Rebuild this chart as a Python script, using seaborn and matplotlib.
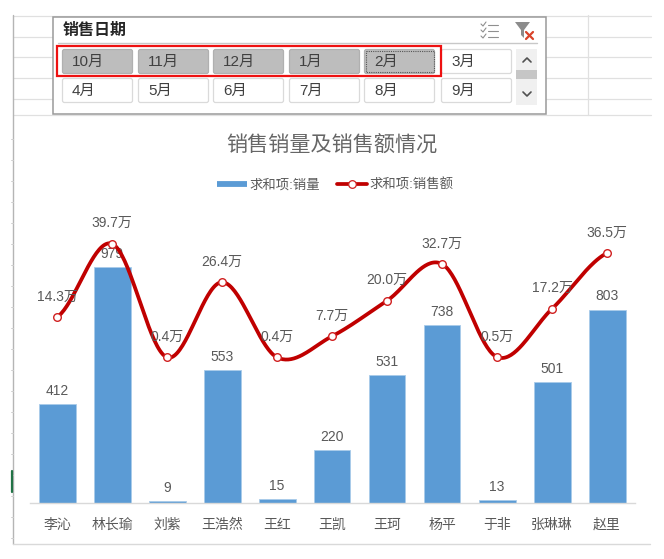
import numpy as np
import pandas as pd
import matplotlib
matplotlib.use("Agg")
import matplotlib.pyplot as plt
from matplotlib.lines import Line2D
from matplotlib.patches import Rectangle, FancyBboxPatch, Polygon
import seaborn as sns

names = ["李沁", "林长瑜", "刘紫", "王浩然", "王红", "王凯", "王珂", "杨平", "于非", "张琳琳", "赵里"]
sales_qty = [412, 979, 9, 553, 15, 220, 531, 738, 13, 501, 803]
sales_amt = [14.3, 39.7, 0.4, 26.4, 0.4, 7.7, 20.0, 32.7, 0.5, 17.2, 36.5]
months_row1 = ["10月", "11月", "12月", "1月", "2月", "3月"]
months_row2 = ["4月", "5月", "6月", "7月", "8月", "9月"]
selected = {"10月", "11月", "12月", "1月", "2月"}

sns.set_theme(style="white")
FONT = ["Liberation Sans", "Noto Sans CJK SC", "DejaVu Sans"]
plt.rcParams["font.family"] = FONT
plt.rcParams["axes.unicode_minus"] = False

W, H = 664, 559
BLUE, RED, GREY = "#5B9BD5", "#C00000", "#595959"
fig = plt.figure(figsize=(W / 100, H / 100), dpi=100, facecolor="white")

# ---------- worksheet and slicer layer, in pixel coordinates ----------
bg = fig.add_axes([0, 0, 1, 1], zorder=0)
bg.set_xlim(0, W); bg.set_ylim(H, 0); bg.axis("off")
for y in (16, 37, 57, 78, 99, 115):
    bg.plot([13, 651], [y, y], color="#E0E0E0", lw=0.9)
bg.plot([588, 588], [15, 115], color="#E0E0E0", lw=0.9)
bg.plot([13, 13], [15, 544], color="#B5B5B5", lw=1)
bg.plot([13, 650], [544, 544], color="#D9D9D9", lw=1)
for y in range(139, 544, 21):
    bg.plot([11, 13], [y, y], color="#D0D0D0", lw=0.7)
bg.plot([12, 12], [471, 492], color="#217346", lw=1.6)

bg.add_patch(Rectangle((53, 17), 493, 97, fc="white", ec="#9A9A9A", lw=1.1, zorder=2))
bg.text(63, 30.5, "销售日期", fontsize=11.5, fontweight="bold", color="#262626",
        family=FONT, va="center", ha="left", zorder=4)
bg.plot([58, 537], [43, 43], color="#C8C8C8", lw=1, zorder=3)

xs_btn = [62, 138, 213, 289, 364, 441]
for row, top in ((months_row1, 49), (months_row2, 78)):
    for lab, x0 in zip(row, xs_btn):
        on = lab in selected
        bg.add_patch(FancyBboxPatch((x0 + 0.5, top + 0.5), 70, 24, boxstyle="round,pad=0,rounding_size=2",
                                    fc="#BDBDBD" if on else "white",
                                    ec="#B0B0B0" if on else "#DADADA", lw=0.9, zorder=3))
        bg.text(x0 + 10, top + 13, lab, fontsize=11, color="#404040", va="center", ha="left", zorder=4)
bg.add_patch(Rectangle((366, 51), 68, 21, fc="none", ec="#555555", lw=0.8, ls=(0, (1, 1)), zorder=4))
bg.add_patch(Rectangle((57, 46), 384, 30, fc="none", ec="#EE1111", lw=1.6, zorder=5))

bg.add_patch(Rectangle((516, 49), 21, 56, fc="#F0F0F0", ec="none", zorder=3))
bg.add_patch(Rectangle((516, 70), 21, 9, fc="#C6C6C6", ec="none", zorder=4))
bg.plot([523, 527, 531], [62, 58, 62], color="#505050", lw=1.2, zorder=5)
bg.plot([523, 527, 531], [92, 96, 92], color="#505050", lw=1.2, zorder=5)

# slicer icons
for y in (25, 31, 37):
    bg.plot([488, 498], [y, y], color="#8F8F8F", lw=0.8, zorder=4)
    bg.plot([481, 483, 486], [y - 1, y + 1, y - 3], color="#8F8F8F", lw=0.8, zorder=4)
bg.add_patch(Polygon([(515, 22), (530, 22), (524, 30), (524, 38), (521, 35), (521, 30)],
                     fc="#8C8C8C", ec="none", zorder=4))
bg.plot([526, 533], [32, 39], color="#D9442B", lw=1.6, zorder=5)
bg.plot([533, 526], [32, 39], color="#D9442B", lw=1.6, zorder=5)

# ---------- chart ----------
left, right, top_px, base_px = 29.5, 634.5, 214, 503
pos = [left / W, 1 - base_px / H, (right - left) / W, (base_px - top_px) / H]
ax = fig.add_axes(pos, zorder=2)
ax.patch.set_alpha(0)
df = pd.DataFrame({"name": names, "qty": sales_qty, "amt": sales_amt})
sns.barplot(data=df, x="name", y="qty", color=BLUE, saturation=1, width=37 / 55, ax=ax,
            edgecolor="#A9CBEA", linewidth=0.6)
ax.set_xlim(-0.5, 10.5)
ax.set_ylim(0, 1200)
ax.set_xlabel(""); ax.set_ylabel("")
ax.set_yticks([])
ax.tick_params(axis="x", length=0, pad=10.5, labelsize=10, labelcolor=GREY)
for s in ("top", "left", "right"):
    ax.spines[s].set_visible(False)
ax.spines["bottom"].set_color("#D9D9D9")
ax.spines["bottom"].set_linewidth(1)
for c in ax.containers:
    ax.bar_label(c, labels=[str(v) for v in sales_qty], padding=4.5, fontsize=10, color=GREY)

ax2 = ax.twinx()
ax2.set_zorder(3); ax2.patch.set_alpha(0)
ax2.set_ylim(-50, 50)
ax2.set_yticks([])
ax2.grid(False)
for s in ax2.spines.values():
    s.set_visible(False)

# Smooth (Excel-style) curve through the data: cubic Bezier with Catmull-Rom tangents
pts = np.array(sales_amt, dtype=float)
p = np.concatenate(([pts[0]], pts, [pts[-1]]))
cx, cy = [], []
for i in range(len(pts) - 1):
    y0, y1, y2, y3 = p[i], p[i + 1], p[i + 2], p[i + 3]
    c1, c2 = y1 + (y2 - y0) / 6, y2 - (y3 - y1) / 6
    t = np.linspace(0, 1, 40)
    cx.append(i + t)
    cy.append((1 - t) ** 3 * y1 + 3 * (1 - t) ** 2 * t * c1 + 3 * (1 - t) * t ** 2 * c2 + t ** 3 * y2)
sns.lineplot(x=np.concatenate(cx), y=np.concatenate(cy), color=RED, lw=2.7, ax=ax2,
             estimator=None, sort=False, legend=False)
sns.scatterplot(x=np.arange(len(pts)), y=pts, ax=ax2, s=30, color="white", edgecolor="#D02020",
                linewidth=1, zorder=5, legend=False)
ax2.set_xlim(-0.5, 10.5)
ax2.set_xlabel(""); ax2.set_ylabel("")
for i, v in enumerate(sales_amt):
    ax2.annotate(f"{v:.1f}万", (i, v), xytext=(0, 14.8), textcoords="offset points", ha="center",
                 va="center", fontsize=10, color=GREY, zorder=6)

fig.text(331.5 / W, 1 - 146 / H, "销售销量及销售额情况", fontsize=15.2, color="#666666", ha="center", va="center")

handles = [Line2D([], [], color=BLUE, lw=4.2, solid_capstyle="butt"),
           Line2D([], [], color=RED, lw=2.7, marker="o", ms=5.5, mfc="white", mec="#D02020", mew=0.9)]
leg = fig.legend(handles, ["求和项:销量", "求和项:销售额"], ncol=2, frameon=False, fontsize=9.6,
                 labelcolor=GREY, loc="center", bbox_to_anchor=(335 / W, 1 - 185 / H),
                 handlelength=2.25, handletextpad=0.2, columnspacing=1.25)

fig.savefig("out.png", dpi=100)
